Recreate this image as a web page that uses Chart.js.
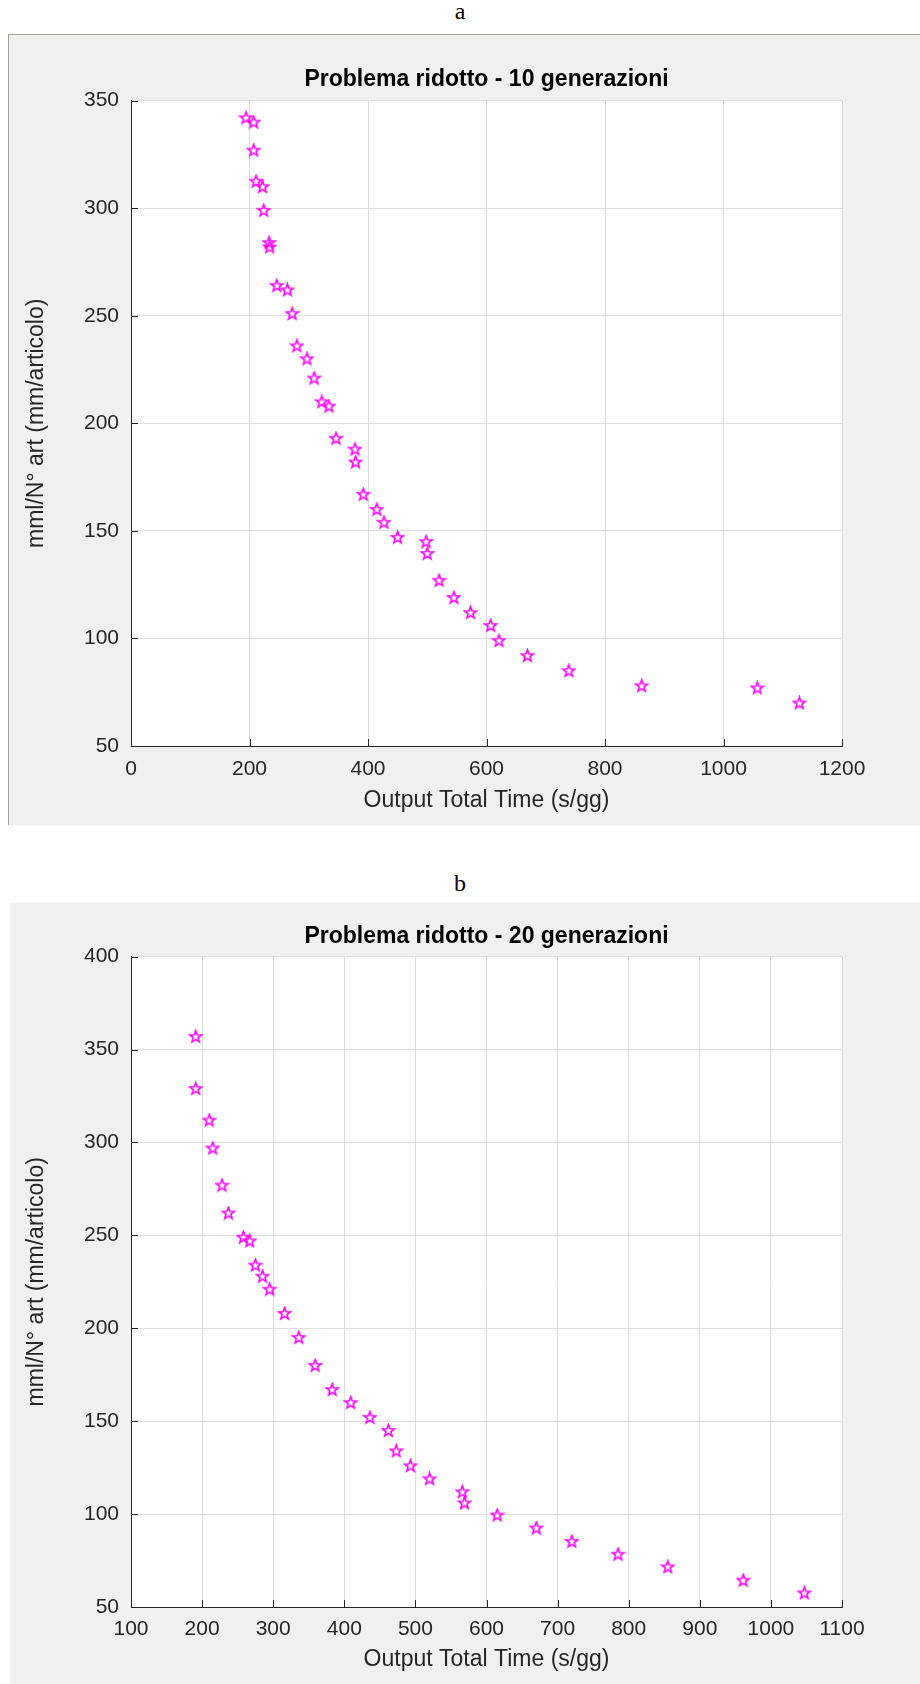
<!DOCTYPE html>
<html>
<head>
<meta charset="utf-8">
<script src="https://cdn.jsdelivr.net/npm/chart.js@4"></script>
<style>
    body { margin: 0; background: #ffffff; width: 920px; height: 1684px; position: relative; overflow: hidden; }
    .letter { position: absolute; left: 0; width: 920px; text-align: center; font-family: "Liberation Serif", serif; font-size: 24px; color: #000; }
    .panel { position: absolute; background: #f0f0f0; }
    #panel-a { left: 8px; top: 34px; width: 911px; height: 790px; border-top: 1px solid #a8a39c; border-left: 1px solid #a0a0a0; }
    #panel-b { left: 10px; top: 903px; width: 910px; height: 781px; }
    canvas { display: block; }
</style>
</head>
<body>
<div class="letter" style="top: -2px;">a</div>
<div class="panel" id="panel-a"><canvas id="chart-a" width="911" height="790"></canvas></div>
<div class="letter" style="top: 870px;">b</div>
<div class="panel" id="panel-b"><canvas id="chart-b" width="910" height="781"></canvas></div>
<script>
// Problema ridotto - 10 generazioni
const timeA = [194, 207, 207, 211, 222, 224, 233, 234, 246, 264, 272, 280, 297, 309, 322, 334, 346, 378, 379, 392,
    415, 427, 450, 498, 500, 520, 545, 573, 607, 621, 669, 739, 862, 1057, 1128];
const mmlA = [342, 340, 327, 312.5, 310, 299, 284, 282, 264, 262, 251, 236, 230, 221, 210, 208, 193, 188, 182, 167,
    160, 154, 147, 145, 139.5, 127, 119, 112, 106, 99, 92, 85, 78, 77, 70];

// Problema ridotto - 20 generazioni
const timeB = [191, 191, 210, 215, 228, 237, 258, 267, 275, 285, 295, 316, 336, 359, 383, 409, 436, 462, 473, 493,
    520, 566, 569, 615, 670, 720, 785, 855, 961, 1047];
const mmlB = [357, 329, 312, 297, 277, 262, 249, 247, 234, 228, 221, 208, 195, 180, 167, 160, 152, 145, 134, 126,
    119, 112, 106, 99.5, 92.5, 85.3, 78.4, 71.6, 64.4, 57.6];

// Axis ranges [min, max, step]
const xRangeA = [0, 1200, 200];
const yRangeA = [50, 350, 50];
const xRangeB = [100, 1100, 100];
const yRangeB = [50, 400, 50];

const titleA = "Problema ridotto - 10 generazioni";
const titleB = "Problema ridotto - 20 generazioni";
const xLabel = "Output Total Time (s/gg)";
const yLabel = "mml/N° art (mm/articolo)";

const axisColor = "#262626";
const gridColor = "#dedede";
const starColor = "#ff00ff";

// Outline pentagram like the MATLAB marker
const makeStar = () => {
    const c = document.createElement("canvas");
    c.width = 15; c.height = 15;
    const g = c.getContext("2d");
    const cx = 7.5, cy = 7.8, ro = 6.2, ri = 2.6;
    g.beginPath();
    for (let i = 0; i < 10; i++) {
        const r = i % 2 === 0 ? ro : ri;
        const a = -Math.PI / 2 + i * Math.PI / 5;
        const px = cx + r * Math.cos(a), py = cy + r * Math.sin(a);
        if (i === 0) g.moveTo(px, py); else g.lineTo(px, py);
    }
    g.closePath();
    g.strokeStyle = starColor;
    g.lineWidth = 1.6;
    g.lineJoin = "miter";
    g.stroke();
    return c;
};
const star = makeStar();

// White plot box
const whiteArea = {
    id: "whiteArea",
    beforeDraw(chart) {
        const { ctx, chartArea } = chart;
        ctx.save();
        ctx.fillStyle = "#ffffff";
        ctx.fillRect(chartArea.left, chartArea.top, chartArea.right - chartArea.left, chartArea.bottom - chartArea.top);
        ctx.restore();
    },
};

// Small ticks drawn inside the axes, as MATLAB does
const innerTicks = {
    id: "innerTicks",
    afterDraw(chart) {
        const { ctx, chartArea, scales } = chart;
        ctx.save();
        ctx.strokeStyle = axisColor;
        ctx.lineWidth = 1;
        ctx.beginPath();
        scales.x.ticks.forEach((t) => {
            const px = Math.round(scales.x.getPixelForValue(t.value)) + 0.5;
            ctx.moveTo(px, chartArea.bottom);
            ctx.lineTo(px, chartArea.bottom - 7);
        });
        scales.y.ticks.forEach((t) => {
            const py = Math.round(scales.y.getPixelForValue(t.value)) + 0.5;
            ctx.moveTo(chartArea.left, py);
            ctx.lineTo(chartArea.left + 7, py);
        });
        ctx.stroke();
        ctx.restore();
    },
};

const makeChart = (id, title, xs, ys, xRange, yRange, lay) => {
    const points = xs.map((x, i) => ({ x: x, y: ys[i] }));
    return new Chart(document.getElementById(id), {
        type: "scatter",
        plugins: [whiteArea, innerTicks],
        data: {
            datasets: [{
                data: points,
                pointStyle: star,
                pointRadius: 7,
                pointHoverRadius: 7,
                showLine: false,
            }],
        },
        options: {
            responsive: false,
            animation: false,
            events: [],
            layout: { padding: { left: 0, top: 0, right: lay.right, bottom: 0 } },
            plugins: {
                legend: { display: false },
                tooltip: { enabled: false },
                title: {
                    display: true,
                    text: title,
                    fullSize: false,
                    color: "#000000",
                    font: { family: "Liberation Sans, Arial, sans-serif", size: 23, weight: "bold" },
                    padding: { top: lay.titleTop, bottom: lay.titleBottom },
                },
            },
            scales: {
                x: {
                    type: "linear",
                    min: xRange[0], max: xRange[1],
                    afterFit: (s) => { s.height = lay.xHeight; },
                    ticks: {
                        stepSize: xRange[2],
                        color: axisColor,
                        padding: lay.xTickPad,
                        maxRotation: 0,
                        autoSkip: false,
                        callback: (v) => String(v),
                        font: { family: "Liberation Sans, Arial, sans-serif", size: 21 },
                    },
                    grid: { color: gridColor, drawTicks: false },
                    border: { color: axisColor, width: 1 },
                    title: {
                        display: true,
                        text: xLabel,
                        color: axisColor,
                        font: { family: "Liberation Sans, Arial, sans-serif", size: 23 },
                        padding: { top: 0, bottom: lay.xTitlePad },
                    },
                },
                y: {
                    type: "linear",
                    min: yRange[0], max: yRange[1],
                    afterFit: (s) => { s.width = lay.yWidth; },
                    ticks: {
                        stepSize: yRange[2],
                        color: axisColor,
                        padding: 12,
                        autoSkip: false,
                        callback: (v) => String(v),
                        font: { family: "Liberation Sans, Arial, sans-serif", size: 21 },
                    },
                    grid: { color: gridColor, drawTicks: false },
                    border: { color: axisColor, width: 1 },
                    title: {
                        display: true,
                        text: yLabel,
                        color: axisColor,
                        font: { family: "Liberation Sans, Arial, sans-serif", size: 23 },
                        padding: { top: lay.yTitlePad, bottom: 0 },
                    },
                },
            },
        },
    });
};

let chartA = makeChart("chart-a", titleA, timeA, mmlA, xRangeA, yRangeA,
    { right: 78, titleTop: 31, titleBottom: 7, xHeight: 79, xTickPad: 11, xTitlePad: 11, yWidth: 122, yTitlePad: 14 });
let chartB = makeChart("chart-b", titleB, timeB, mmlB, xRangeB, yRangeB,
    { right: 78, titleTop: 20, titleBottom: 6, xHeight: 77, xTickPad: 10, xTitlePad: 11, yWidth: 121, yTitlePad: 13 });
</script>
</body>
</html>
